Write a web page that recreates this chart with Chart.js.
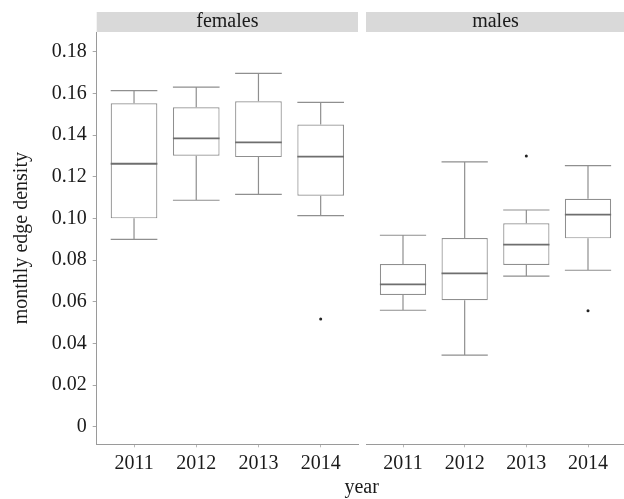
<!DOCTYPE html>
<html><head><meta charset="utf-8">
<script src="https://cdn.jsdelivr.net/npm/chart.js@4"></script>
<style>
html,body{margin:0;padding:0;background:#fff;overflow:hidden;width:624px;height:499px;}
#wrapL{position:absolute;left:0;top:0;width:362px;height:499px;}
#wrapR{position:absolute;left:362px;top:0;width:267px;height:499px;}
#xtitle{position:absolute;left:261.7px;width:200px;top:474px;text-align:center;font:20px 'Liberation Serif',serif;line-height:24px;color:#1a1a1a;}
</style>
</head><body>
<div id="wrapL"><canvas id="cL"></canvas></div>
<div id="wrapR"><canvas id="cR"></canvas></div>
<div id="xtitle">year</div>
<script>
// ---- data ----
const years = ['2011','2012','2013','2014'];
const panels = ['females','males'];
const yTicks = [0,0.02,0.04,0.06,0.08,0.10,0.12,0.14,0.16,0.18];
const yTickLabels = ['0','0.02','0.04','0.06','0.08','0.10','0.12','0.14','0.16','0.18'];

const femLow  = [0.0899,0.1087,0.1115,0.1013];
const femQ1   = [0.1000,0.1301,0.1294,0.1109];
const femMed  = [0.1262,0.1384,0.1365,0.1296];
const femQ3   = [0.1552,0.1533,0.1562,0.1450];
const femHigh = [0.1613,0.1630,0.1696,0.1557];
const femOutYear = ['2014'];
const femOutVal  = [0.0517];

const maleLow  = [0.0559,0.0344,0.0723,0.0751];
const maleQ1   = [0.0632,0.0607,0.0776,0.0904];
const maleMed  = [0.0683,0.0736,0.0874,0.1018];
const maleQ3   = [0.0781,0.0906,0.0976,0.1094];
const maleHigh = [0.0919,0.1271,0.1040,0.1253];
const maleOutYear = ['2013','2014'];
const maleOutVal  = [0.1299,0.0557];

// ---- style ----
const FONT = {family:"'Liberation Serif', serif", size:20};
const TXT = '#1a1a1a';
const BOX = '#8f8f8f';
const MED = '#6e6e6e';
const AXIS = '#9a9a9a';

const boxPlugin = {
  id:'boxes',
  beforeDraw(chart, args, opts){
    const {ctx, chartArea:a} = chart;
    ctx.save();
    ctx.fillStyle = '#d9d9d9';
    ctx.fillRect(a.left, a.top-20, a.right-a.left, 20);
    ctx.fillStyle = TXT;
    ctx.font = "20px 'Liberation Serif', serif";
    ctx.textAlign = 'center';
    ctx.textBaseline = 'middle';
    ctx.fillText(opts.strip, (a.left+a.right)/2, a.top-10);
    ctx.restore();
  },
  afterDatasetsDraw(chart, args, opts){
    const {ctx} = chart;
    const xs = chart.scales.x, ys = chart.scales.y;
    const meta = chart.getDatasetMeta(0);
    ctx.save();
    meta.data.forEach((bar, i) => {
      const x = xs.getPixelForValue(i+1);
      const hw = bar.width/2;
      ctx.strokeStyle = BOX; ctx.lineWidth = 1.2;
      ctx.beginPath();
      ctx.moveTo(x, ys.getPixelForValue(opts.q3[i])); ctx.lineTo(x, ys.getPixelForValue(opts.hi[i]));
      ctx.moveTo(x, ys.getPixelForValue(opts.q1[i])); ctx.lineTo(x, ys.getPixelForValue(opts.lo[i]));
      ctx.moveTo(x-hw, ys.getPixelForValue(opts.hi[i])); ctx.lineTo(x+hw, ys.getPixelForValue(opts.hi[i]));
      ctx.moveTo(x-hw, ys.getPixelForValue(opts.lo[i])); ctx.lineTo(x+hw, ys.getPixelForValue(opts.lo[i]));
      ctx.stroke();
      ctx.strokeStyle = MED; ctx.lineWidth = 1.8;
      ctx.beginPath();
      ctx.moveTo(x-hw, ys.getPixelForValue(opts.med[i])); ctx.lineTo(x+hw, ys.getPixelForValue(opts.med[i]));
      ctx.stroke();
    });
    ctx.restore();
  }
};

function makeChart(id, strip, lo, q1, med, q3, hi, outYear, outVal, showY, pad){
  return new Chart(document.getElementById(id), {
    type:'bar',
    data:{datasets:[
      {type:'bar', data: years.map((y,i)=>({x:i+1, y:[q1[i], q3[i]]})),
       backgroundColor:'#ffffff', borderColor:BOX, borderWidth:1.2, borderSkipped:false,
       categoryPercentage:1, barPercentage:0.75, order:2},
      {type:'scatter', data: outYear.map((y,i)=>({x: years.indexOf(y)+1, y: outVal[i]})),
       pointRadius:1.5, pointBackgroundColor:'#222', pointBorderWidth:0, order:1}
    ]},
    options:{
      responsive:true, maintainAspectRatio:false, animation:false,
      layout:{padding:pad},
      plugins:{legend:{display:false}, tooltip:{enabled:false},
        boxes:{strip, lo, q1, med, q3, hi}},
      scales:{
        x:{type:'linear', min:0.4, max:4.6, offset:false,
          afterBuildTicks: s => { s.ticks = years.map((_,i)=>({value:i+1})); },
          afterFit: s => { s.height = 54.7; },
          ticks:{callback:(v,i)=>years[i], font:FONT, color:TXT, padding:4, maxRotation:0, autoSkip:false},
          grid:{display:true, offset:false, drawOnChartArea:false, drawTicks:true, tickLength:3, color:'#b8b8b8'},
          border:{display:true, color:AXIS, width:1}},
        y:{display:showY, min:-0.00845, max:0.18945,
          afterBuildTicks: s => { s.ticks = yTicks.map(v=>({value:v})); },
          afterFit: s => { s.width = showY ? 96.7 : 0; },
          ticks:{callback:(v,i)=>yTickLabels[i], font:FONT, color:TXT, padding:6},
          grid:{display:true, drawOnChartArea:false, drawTicks:true, tickLength:4, color:'#a8a8a8'},
          border:{display:true, color:AXIS, width:1},
          title:{display:true, text:'monthly edge density', font:FONT, color:TXT, padding:{top:10,bottom:0}}}
      }
    },
    plugins:[boxPlugin]
  });
}

makeChart('cL', panels[0], femLow, femQ1, femMed, femQ3, femHigh, femOutYear, femOutVal, true, {top:32,left:0,right:2.7,bottom:0});
makeChart('cR', panels[1], maleLow, maleQ1, maleMed, maleQ3, maleHigh, maleOutYear, maleOutVal, false, {top:32,left:2.3,right:0.5,bottom:0});
</script>
</body></html>
